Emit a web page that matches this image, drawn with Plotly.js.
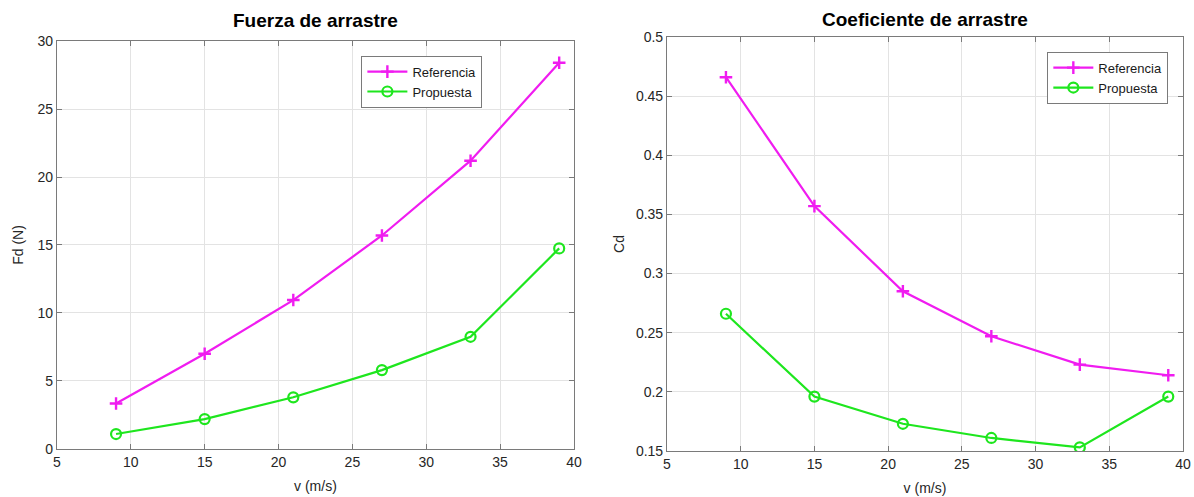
<!DOCTYPE html>
<html><head><meta charset="utf-8">
<script src="https://cdn.plot.ly/plotly-3.0.1.min.js"></script>
<style>html,body{margin:0;padding:0;background:#fff}#c{width:1194px;height:497px}</style>
</head><body><div id="c"></div>
<script>
const velocidad = [9, 15, 21, 27, 33, 39];
const fdReferencia = [3.35, 7.0, 10.95, 15.7, 21.2, 28.4];
const fdPropuesta = [1.1, 2.2, 3.8, 5.8, 8.25, 14.75];
const cdReferencia = [0.466, 0.357, 0.285, 0.247, 0.223, 0.214];
const cdPropuesta = [0.266, 0.196, 0.173, 0.161, 0.153, 0.196];
const xTicks = [5, 10, 15, 20, 25, 30, 35, 40];
const fdTicks = [0, 5, 10, 15, 20, 25, 30];
const cdTicks = [0.15, 0.2, 0.25, 0.3, 0.35, 0.4, 0.45, 0.5];
const cdTickText = ['0.15', '0.2', '0.25', '0.3', '0.35', '0.4', '0.45', '0.5'];

const MAG = '#f01cf0', GRN = '#1ee61e';
const FONT = 'Liberation Sans, Arial, sans-serif';
const refStyle = {mode:'lines+markers', line:{color:MAG, width:2.2},
  marker:{symbol:'cross-thin-open', size:9, line:{color:MAG, width:2.4}, color:MAG}};
const propStyle = {mode:'lines+markers', line:{color:GRN, width:2.2},
  marker:{symbol:'circle-open', size:10, line:{color:GRN, width:2.2}, color:GRN}};

const traces = [
  Object.assign({x:velocidad, y:fdReferencia, name:'Referencia', xaxis:'x', yaxis:'y', legend:'legend'}, refStyle),
  Object.assign({x:velocidad, y:fdPropuesta, name:'Propuesta', xaxis:'x', yaxis:'y', legend:'legend'}, propStyle),
  Object.assign({x:velocidad, y:cdReferencia, name:'Referencia', xaxis:'x2', yaxis:'y2', legend:'legend2'}, refStyle),
  Object.assign({x:velocidad, y:cdPropuesta, name:'Propuesta', xaxis:'x2', yaxis:'y2', legend:'legend2'}, propStyle)
];

const axBase = {showline:true, linecolor:'#7a7a7a', linewidth:1, mirror:'ticks', ticks:'inside',
  ticklen:5, tickcolor:'#7a7a7a', showgrid:true, gridcolor:'#e3e3e3', gridwidth:1, zeroline:false,
  tickfont:{family:FONT, size:14, color:'#262626'}, fixedrange:true};
function ax(extra){ return Object.assign({}, axBase, extra); }

const legBase = {bgcolor:'#ffffff', bordercolor:'#7a7a7a', borderwidth:1,
  font:{family:FONT, size:13, color:'#1a1a1a'}, xanchor:'right', yanchor:'top',
  itemwidth:40, tracegroupgap:0};

const layout = {
  width:1194, height:497, margin:{l:0, r:0, t:0, b:0},
  paper_bgcolor:'#ffffff', plot_bgcolor:'#ffffff', showlegend:true,
  xaxis: ax({domain:[0.0477, 0.4807], range:[5,40], tickvals:xTicks, anchor:'y',
    title:{text:'v (m/s)', font:{family:FONT, size:14, color:'#262626'}, standoff:12}}),
  yaxis: ax({domain:[0.0966, 0.9175], range:[0,30], tickvals:fdTicks, anchor:'x',
    title:{text:'Fd (N)', font:{family:FONT, size:14, color:'#262626'}, standoff:10}}),
  xaxis2: ax({domain:[0.5586, 0.9908], range:[5,40], tickvals:xTicks, anchor:'y2',
    title:{text:'v (m/s)', font:{family:FONT, size:14, color:'#262626'}, standoff:12}}),
  yaxis2: ax({domain:[0.0926, 0.9256], range:[0.15,0.5], tickvals:cdTicks, ticktext:cdTickText, anchor:'x2',
    title:{text:'Cd', font:{family:FONT, size:14, color:'#262626'}, standoff:8}}),
  legend: Object.assign({}, legBase, {x:0.4040, y:0.888}),
  legend2: Object.assign({}, legBase, {x:0.9785, y:0.896}),
  annotations:[
    {text:'<b>Fuerza de arrastre</b>', xref:'paper', yref:'paper', x:0.2645, y:1-20/497,
     xanchor:'center', yanchor:'middle', showarrow:false, font:{family:FONT, size:19, color:'#000'}},
    {text:'<b>Coeficiente de arrastre</b>', xref:'paper', yref:'paper', x:0.7747, y:1-19/497,
     xanchor:'center', yanchor:'middle', showarrow:false, font:{family:FONT, size:19, color:'#000'}}
  ]
};
Plotly.newPlot('c', traces, layout, {staticPlot:true, displayModeBar:false});
</script></body></html>
